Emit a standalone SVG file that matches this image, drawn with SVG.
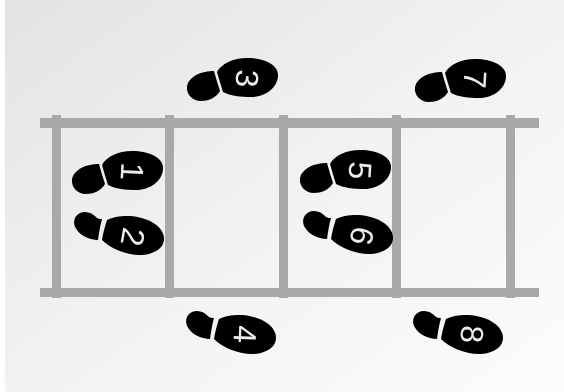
<svg xmlns="http://www.w3.org/2000/svg" width="564" height="392" viewBox="0 0 564 392">
<defs>
<linearGradient id="bg" x1="0" y1="0" x2="1" y2="1"><stop offset="0" stop-color="#e3e3e3"/><stop offset="0.5" stop-color="#f2f2f2"/><stop offset="1" stop-color="#fcfcfc"/></linearGradient>
<filter id="soft" x="-5%" y="-5%" width="110%" height="110%"><feGaussianBlur stdDeviation="0.6"/></filter>
<g id="up">
<path d="M-30 -6C-26 -14 -14 -20 0 -20C18 -20 31 -13 31 -3C31 9 19 19 4 19C-6 19 -17 18 -24 14C-26 8 -28 1 -30 -6Z"/>
<path d="M-33 -7C-31 0 -29 7 -27 13C-31 20 -39 23 -46 23C-55 23 -61 16 -60 8C-58 -1 -48 -5 -42 -6C-39 -7 -36 -7 -33 -7Z"/>
</g>
<g id="down">
<path d="M-26 -16C-18 -20 -10 -20 -3 -20C14 -19 31 -10 31 3C31 13 19 19 7 19C-8 19 -23 12 -31 4C-30 -3 -28 -10 -26 -16Z"/>
<path d="M-31 -17C-33 -10 -34 -3 -35 4C-44 4 -54 -1 -58 -9C-61 -17 -56 -24 -48 -24C-42 -24 -38 -20 -36 -18C-34 -17 -33 -17 -31 -17Z"/>
</g>
</defs>
<style>
.bar{fill:#a9a9a9}
.num{font-family:"Liberation Sans",Arial,sans-serif;font-size:32px;fill:#ececec;text-anchor:middle}
</style>
<rect width="564" height="392" fill="#fff"/>
<rect x="5" y="0" width="559" height="392" fill="url(#bg)"/>
<g id="ladder" filter="url(#soft)">
<rect class="bar" x="40" y="118" width="499" height="10"/>
<rect class="bar" x="40" y="288" width="499" height="9"/>
<rect class="bar" x="52" y="115" width="9" height="183"/>
<rect class="bar" x="165" y="115" width="9" height="183"/>
<rect class="bar" x="279" y="115" width="9" height="183"/>
<rect class="bar" x="392" y="115" width="9" height="183"/>
<rect class="bar" x="506" y="115" width="9" height="183"/>
</g>
<g filter="url(#soft)">
<g id="foot1" transform="translate(132 171)"><use href="#up"/><text class="num" transform="translate(-11 0) rotate(93)">1</text></g>
<g id="foot2" transform="translate(133 236)"><use href="#down"/><text class="num" transform="translate(-11 -1) rotate(100)">2</text></g>
<g id="foot3" transform="translate(247 78)"><use href="#up"/><text class="num" transform="translate(-11 0) rotate(93)">3</text></g>
<g id="foot4" transform="translate(245 335)"><use href="#down"/><text class="num" transform="translate(-11 -1) rotate(92)">4</text></g>
<g id="foot5" transform="translate(360 170)"><use href="#up"/><text class="num" transform="translate(-11 0) rotate(93)">5</text></g>
<g id="foot6" transform="translate(362 235)"><use href="#down"/><text class="num" transform="translate(-11 -1) rotate(100)">6</text></g>
<g id="foot7" transform="translate(475 79)"><use href="#up"/><text class="num" transform="translate(-11 0) rotate(93)">7</text></g>
<g id="foot8" transform="translate(472 335)"><use href="#down"/><text class="num" transform="translate(-11 -1) rotate(92)">8</text></g>
</g>
</svg>
